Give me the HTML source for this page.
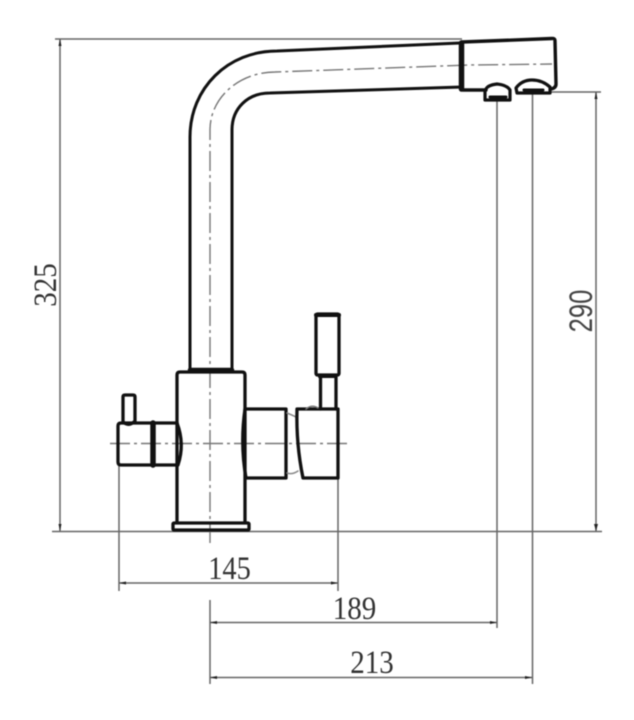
<!DOCTYPE html>
<html><head><meta charset="utf-8"><style>
html,body{margin:0;padding:0;background:#fff;width:634px;height:720px;overflow:hidden}
svg{display:block;filter:blur(.5px)}
</style></head><body>
<svg width="634" height="720" viewBox="0 0 634 720" xmlns="http://www.w3.org/2000/svg">
<rect width="634" height="720" fill="#fff"/>
<!-- dimension lines -->
<g stroke="#666" stroke-width="1.5" fill="none">
<path d="M55 39H462M60 39V531M52 531.500H602"/>
<path d="M551 92H601M596 92V531"/>
<path d="M497 100V628M532.500 92V684"/>
<path d="M119 465V591M338 478V591M119 583H338"/>
<path d="M210 600V684M210 622.500H497M210 677.500H532"/>
</g>
<g fill="#222">
<path d="M60 39l-1.500 7h3zM60 531l-1.500-7h3zM596 92l-1.500 7h3zM596 531l-2-7h4z"/>
<path d="M119 583l7-1.500v3zM338 583l-7-1.500v3zM210 622.500l7-1.500v3zM497 622.500l-7-1.500v3zM210 677.500l7-1.500v3zM532 677.500l-7-1.500v3z"/>
</g>
<!-- centre lines -->
<g stroke="#777" stroke-width="1.400" fill="none" stroke-dasharray="20 4 3 4">
<path d="M210 543V130C210 97 240 72 275 72L470 65L552 64"/>
<path d="M110 443.500H350"/>
</g>
<!-- faucet -->
<g stroke="#111" fill="none" stroke-width="3.300" stroke-linejoin="round" stroke-linecap="round">
<path d="M190 369V137C190 88 228 51 277 51L460 43" stroke-width="3"/>
<path d="M232 369V130C232 108 248 93 270 93L462 87" stroke-width="3"/>
<path d="M190 370H232" stroke-width="4.500"/>
<!-- head -->
<path d="M462 42L552 38.500Q555 38 555 41L556 84Q556 88 551 89M463 90L486 90" stroke-width="3.400"/>
<path d="M461.500 43V89" stroke-width="5.500"/>
<!-- nozzles -->
<path d="M485 90V100H510V90Q507 85 497 84Q488 85 486 89" stroke-width="3.200"/>
<path d="M490 97H506" stroke-width="3"/>
<path d="M517 93H550V87Q542 80 532 80Q522 80 516 88Z" stroke-width="3.200"/>
<path d="M524 90H543" stroke-width="3"/>
<!-- body -->
<path d="M177 522V375Q177 372 180 372H242Q245 372 245 375V522"/>
<rect x="173" y="523" width="76" height="7" rx="1"/>
<!-- left tap -->
<path d="M177 423H121Q118 423 118 426V462Q118 465 121 465H177"/>
<path d="M177 423Q185 444 178 465"/>
<path d="M153 423V465" stroke-width="5.500"/>
<path d="M123 422V397Q123 395 125 395H133Q135 395 135 397V421Q129 427 123 422Z"/>
<!-- right cylinder -->
<path d="M245 409H286V478H246Q240 444 245 409Z"/>
<!-- connector -->
<path d="M287 413Q292 415 296 417M287 473Q292 475 298 471" stroke="#888" stroke-width="1.500"/>
<!-- handle block -->
<path d="M297 409H338V478H303Q296 444 297 409Z"/>
<path d="M306 409Q312 404 318 408" stroke="#777" stroke-width="1.500"/>
<!-- lever -->
<path d="M320.500 409V377M336 409V377"/>
<path d="M319 377H336" stroke-width="2"/>
<rect x="316" y="314" width="23" height="61" rx="1.500"/>
<path d="M316 315H339" stroke-width="4"/>
</g>
<!-- labels -->
<g font-family="'Liberation Serif',serif" font-size="33" fill="#333" text-anchor="middle">
<text transform="translate(229.500,579) scale(.86,1)">145</text>
<text transform="translate(354.500,619) scale(.88,1)">189</text>
<text transform="translate(372,673) scale(.88,1)">213</text>
<text transform="translate(56,285) rotate(-90) scale(.88,1)">325</text>
</g>
<text transform="translate(592,311) rotate(-90) scale(.8,1)" font-family="'Liberation Sans',sans-serif" font-size="32" fill="#444" text-anchor="middle">290</text>
</svg>
</body></html>
